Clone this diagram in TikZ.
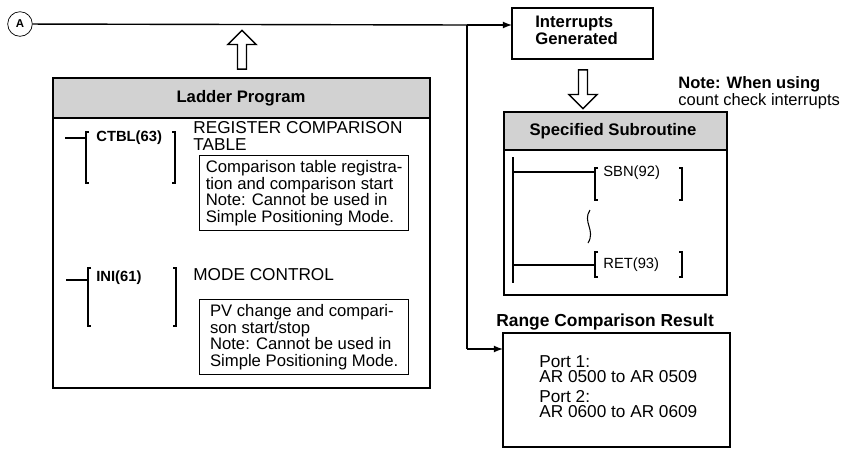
\documentclass[tikz,border=0pt]{standalone}
\usepackage{fontspec}
\setmainfont{Liberation Sans}
\usetikzlibrary{positioning,arrows,shapes.arrows}
\tikzset{
 head/.style
  = {draw, thick, fill=gray!35},
 note/.style
  = {draw, thick, fill=white, align=left, minimum width=4.18cm, inner xsep=3pt, inner ysep=2.5pt,
     font=\fontsize{9.5}{9.6}\selectfont},
 txt/.style
  = {anchor=north west, inner sep=0pt, align=left, font=\fontsize{9.8}{9.6}\selectfont},
 bold/.style
  = {inner sep=0pt, font=\fontsize{9.5}{9.6}\selectfont\bfseries, align=left},
 instr/.style
  = {anchor=west, inner sep=0pt, font=\fontsize{8.4}{8}\selectfont\bfseries},
 sub/.style
  = {anchor=west, inner sep=0pt, font=\fontsize{8.4}{8}\selectfont},
 rung/.style
  = {draw, semithick},
 l/.style
  = {draw, -latex, thick},
 hollow/.style
  = {single arrow, draw, thick, fill=white, minimum width=16pt,
     single arrow head extend=3pt, minimum height=22pt, inner sep=1pt}
}
\begin{document}
\begin{tikzpicture}[x=0.02cm,y=-0.02cm]
    \useasboundingbox (0,0) rectangle (853,451);
    % flag and main line
    \node [circle, draw, inner sep=0pt, minimum size=14pt, font=\fontsize{6.5}{6}\selectfont\bfseries] (flagA) at (20,24) {A};
    \coordinate (split) at (467,25);
    \coordinate (splitlow) at (467,349);
    % interrupts
    \draw [thick] (512,8) rectangle (653,59);
    \coordinate (intrin) at (512,25);
    \node [bold, anchor=north west] (intr) at (535,16) {Interrupts\\Generated};
    \node [hollow, shape border rotate=270] (down) at (583,87) {};
    \node [anchor=north west, inner sep=0pt, align=left, font=\fontsize{9.4}{8}\selectfont] (note) at (678,76) {\textbf{Note: When using}\\count check interrupts};
    % subroutine box
    \draw [thick] (504,112) rectangle (727,295);
    \draw [head] (504,112) rectangle (727,150);
    \node [bold] (subtitle) at (613,131) {Specified Subroutine};
    \coordinate (rail) at (513,157);
    \path [rung] (rail) -- (513,283);
    \path [rung] (513,172) -- (595,172);
    \path [rung] (598,168) -| (595,200) -- (598,200);
    \path [rung] (679,168) -| (682,200) -- (679,200);
    \node [sub] (sbn) at (603,173) {SBN(92)};
    \path [rung] (590,210) .. controls (582,222) and (596,230) .. (588,243);
    \path [rung] (513,265) -- (595,265);
    \path [rung] (598,252) -| (595,277) -- (598,277);
    \path [rung] (679,252) -| (682,277) -- (679,277);
    \node [sub] (ret) at (603,265) {RET(93)};
    % ladder program box
    \draw [thick] (53,78) rectangle (430,388);
    \draw [head] (53,78) rectangle (430,118);
    \node [bold] (ladtitle) at (241,98) {Ladder Program};
    \node [hollow, shape border rotate=90] (up) at (242,52) {};
    \path [rung] (65,138) -- (86,138);
    \path [rung] (89,132) -| (86,183) -- (89,183);
    \path [rung] (172,132) -| (175,183) -- (172,183);
    \node [instr] (ctbl) at (96,138) {CTBL(63)};
    \node [txt] (reg) at (193,121) {REGISTER COMPARISON\\TABLE};
    \node [note, anchor=north west] (ctblnote) at (199,155) {Comparison table registra-\\tion and comparison start\\Note: Cannot be used in\\Simple Positioning Mode.};
    \path [rung] (66,280) -- (88,280);
    \path [rung] (91,268) -| (88,326) -- (91,326);
    \path [rung] (173,268) -| (176,326) -- (173,326);
    \node [instr] (ini) at (96,278) {INI(61)};
    \node [txt] (mode) at (193,268) {MODE CONTROL};
    \node [note, anchor=north west] (ininote) at (199,299) {PV change and compari-\\son start/stop\\Note: Cannot be used in\\Simple Positioning Mode.};
    % range comparison
    \node [bold, anchor=west, font=\fontsize{9.9}{9}\selectfont\bfseries] (rangetitle) at (496,322) {Range Comparison Result};
    \draw [thick] (503,333) rectangle (730,447);
    \node [txt, font=\fontsize{9.8}{8.5}\selectfont] (ports) at (539,355) {Port 1:\\AR 0500 to AR 0509\\[3pt]Port 2:\\AR 0600 to AR 0609};
    \coordinate (rangein) at (503,349);
    % connectors
    \draw [thick] (flagA) -- (split);
    \path [l] (split) -- (intrin);
    \draw [thick] (split) -- (splitlow);
    \path [l] (splitlow) -- (rangein);
\end{tikzpicture}
\end{document}
